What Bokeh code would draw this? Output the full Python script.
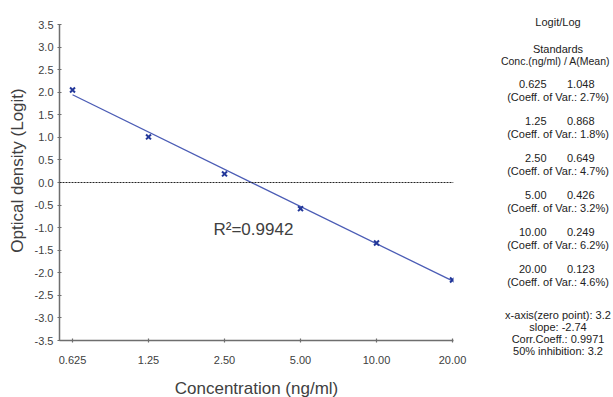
import math
from bokeh.plotting import figure
from bokeh.layouts import row
from bokeh.models import FixedTicker, PrintfTickFormatter, Label, Span, Range1d
from bokeh.core.properties import value
from bokeh.embed import file_html
from bokeh.resources import INLINE

# ---- data ----
conc = [0.625, 1.25, 2.50, 5.00, 10.00, 20.00]
logit = [2.05, 1.01, 0.19, -0.58, -1.34, -2.16]
x_tick_labels = ["0.625", "1.25", "2.50", "5.00", "10.00", "20.00"]
a_mean = ["1.048", "0.868", "0.649", "0.426", "0.249", "0.123"]
cv = ["2.7%", "1.8%", "4.7%", "3.2%", "6.2%", "4.6%"]
zero_point = 3.2
slope = -2.74
corr_coeff = "0.9971"
inhibition50 = "3.2"
r_squared = "0.9942"
y_min, y_max = -3.5, 3.5

# fitted line from the reported regression (y = slope * log10(c / zero_point))
fit_x = [conc[0], conc[-1]]
fit_y = [slope * math.log10(c / zero_point) for c in fit_x]

# ---- layout ----
H = 397
W1 = 490
FL, FW = 59, 394
AXIS_TOP, FB = 24, 340          # pixel rows of y_max and y_min
FH = FB                          # frame runs from the top of the canvas
px_per_unit = (FB - AXIS_TOP) / (y_max - y_min)
FONT = "Liberation Sans"

p = figure(width=W1, height=H, frame_width=FW, frame_height=FH,
           min_border_left=FL, min_border_right=W1 - FL - FW,
           min_border_top=0, min_border_bottom=H - FB,
           x_axis_type="log", x_range=(0.555, 20.18),
           y_range=(y_min, y_max + AXIS_TOP / px_per_unit),
           output_backend="svg", toolbar_location=None)
p.outline_line_color = None
p.grid.grid_line_color = None

for ax in (p.xaxis[0], p.yaxis[0]):
    ax.axis_line_color = "#6e6e6e"
    ax.axis_line_width = 1.5
    ax.major_tick_line_color = "#6e6e6e"
    ax.major_tick_line_width = 1.2
    ax.major_tick_in = 2
    ax.major_tick_out = 2
    ax.minor_tick_line_color = None
    ax.major_label_text_font = FONT
    ax.major_label_text_font_size = "11px"
    ax.major_label_text_color = "#404040"
    ax.axis_label_text_font = FONT
    ax.axis_label_text_font_size = "17px"
    ax.axis_label_text_font_style = "normal"
    ax.axis_label_text_color = "#404040"

p.xaxis.ticker = FixedTicker(ticks=conc)
p.xaxis.major_label_overrides = {c: t for c, t in zip(conc, x_tick_labels)}
p.xaxis.major_label_standoff = 13
p.xaxis.axis_label = "Concentration (ng/ml)"
p.xaxis.axis_label_standoff = 12
p.yaxis.ticker = FixedTicker(ticks=[i * 0.5 for i in range(-7, 8)])
p.yaxis.formatter = PrintfTickFormatter(format="%.1f")
p.yaxis.bounds = (y_min, y_max)
p.yaxis.major_label_standoff = 4
p.yaxis.axis_label = "Optical density (Logit)"
p.yaxis.axis_label_standoff = 5

p.add_layout(Span(location=0, dimension="width", line_color="#222222",
                  line_width=1, line_dash="2 1"))

p.line(fit_x, fit_y, line_color="#4b5cb5", line_width=1.3)
p.scatter(conc, logit, marker="x", size=7, line_color="#23389a", line_width=2)

p.add_layout(Label(x=213 - FL, y=FB - 229, x_units="screen", y_units="screen",
                   text="R\u00b2=" + r_squared, text_font=FONT,
                   text_font_size="17px", text_align="left",
                   text_baseline="alphabetic", text_color="#404040"))

# ---- right-hand statistics panel ----
W2 = 613 - W1
q = figure(width=W2, height=H, frame_width=W2, frame_height=H,
           x_range=Range1d(W1, 613), y_range=Range1d(H, 0),
           x_axis_location=None, y_axis_location=None,
           min_border=0, output_backend="svg", toolbar_location=None)
q.grid.grid_line_color = None
q.outline_line_color = None

CX = 557.5
c_txt, c_y = [], []
r_txt, r_x, r_y = [], [], []


def centered(t, y):
    c_txt.append(t)
    c_y.append(y)


centered("Logit/Log", 21)
centered("Standards", 48)
for i, (t, a, c) in enumerate(zip(x_tick_labels, a_mean, cv)):
    y0 = 83 + 37 * i
    r_txt += [t, a]
    r_x += [546, 594]
    r_y += [y0, y0]
    centered("(Coeff. of Var.: %s)" % c, y0 + 13)
centered("x-axis(zero point): %g" % zero_point, 314)
centered("slope: %.2f" % slope, 326)
centered("Corr.Coeff.: " + corr_coeff, 338)
centered("50% inhibition: " + inhibition50, 350)

q.text(x=[CX] * len(c_txt), y=c_y, text=c_txt, text_font=value(FONT),
       text_font_size="11px", text_align="center", text_baseline="middle",
       text_color="#222222")
q.text(x=[555], y=[60], text=["Conc.(ng/ml) / A(Mean)"], text_font=value(FONT),
       text_font_size="10.5px", text_align="center", text_baseline="middle",
       text_color="#222222")
q.text(x=r_x, y=r_y, text=r_txt, text_font=value(FONT),
       text_font_size="11px", text_align="right", text_baseline="middle",
       text_color="#222222")

open("out.html", "w").write(file_html(row(p, q), INLINE))
